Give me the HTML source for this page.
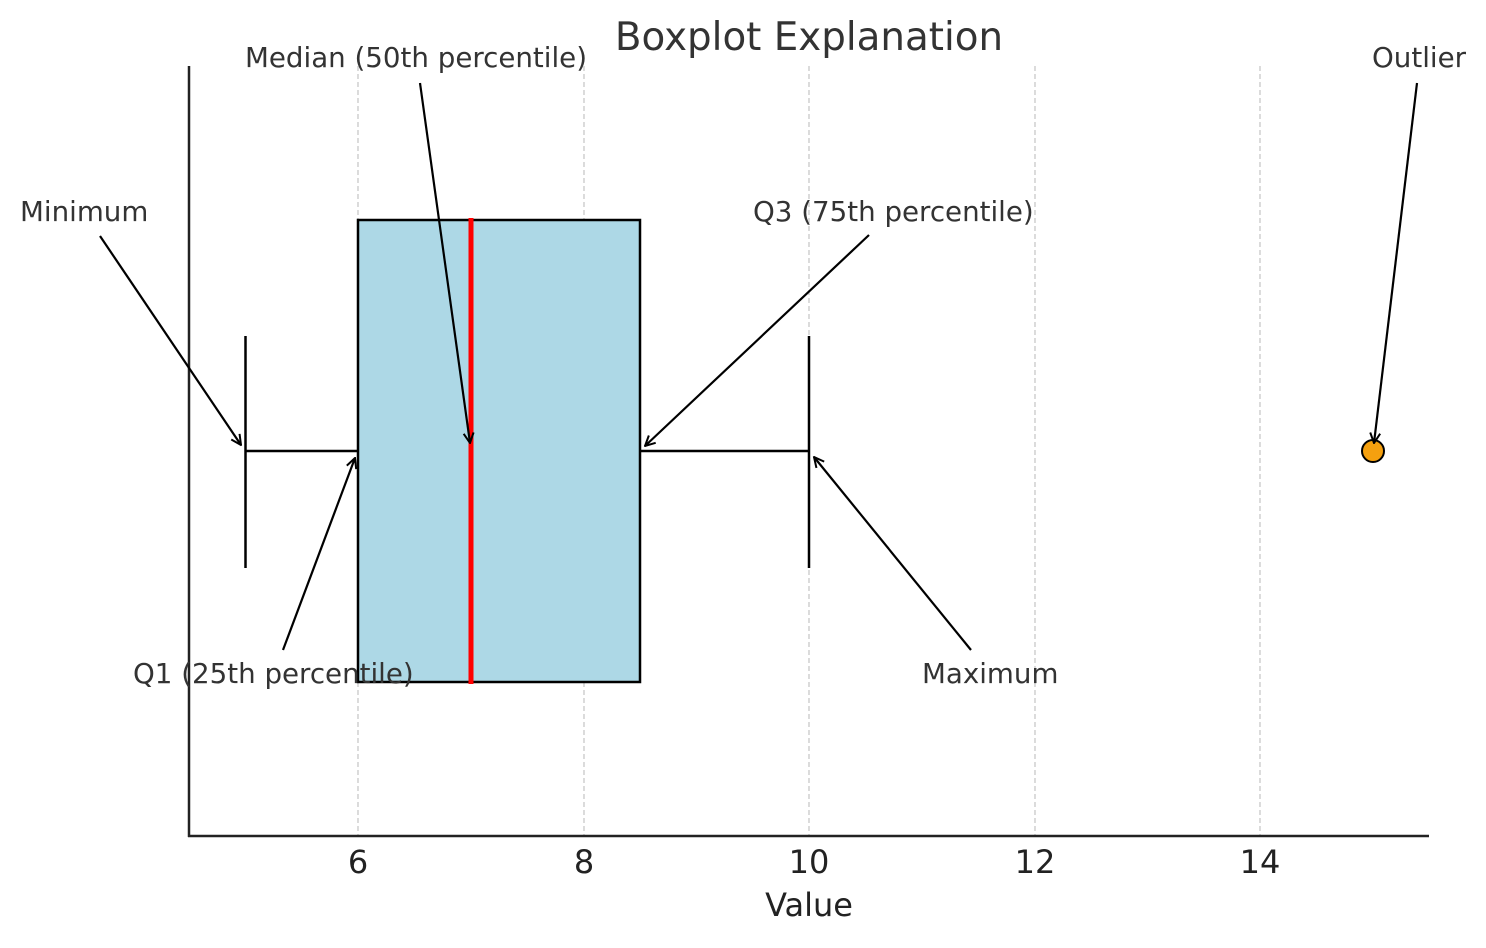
<!DOCTYPE html>
<html><head><meta charset="utf-8"><style>html,body{margin:0;padding:0;background:#fff}</style></head>
<body>
<svg width="1486" height="943" xmlns="http://www.w3.org/2000/svg" font-family="'DejaVu Sans', 'Liberation Sans', sans-serif">
<defs>
<marker id="a" viewBox="0 0 12 12" refX="11" refY="6" markerWidth="12" markerHeight="12" markerUnits="userSpaceOnUse" orient="auto">
<path d="M1,1 L11,6 L1,11" fill="none" stroke="#000" stroke-width="2"/>
</marker>
</defs>
<g stroke="#c8c8c8" stroke-width="1.3" stroke-dasharray="5,3">
<line x1="358" y1="66" x2="358" y2="836"/>
<line x1="584" y1="66" x2="584" y2="836"/>
<line x1="809" y1="66" x2="809" y2="836"/>
<line x1="1035" y1="66" x2="1035" y2="836"/>
<line x1="1260" y1="66" x2="1260" y2="836"/>
</g>
<g stroke="#222" stroke-width="2.5">
<line x1="189" y1="66" x2="189" y2="837"/>
<line x1="188" y1="836" x2="1429" y2="836"/>
</g>
<rect x="358" y="220" width="282" height="462" fill="#add8e6" stroke="#000" stroke-width="2.5"/>
<line x1="471" y1="218" x2="471" y2="684" stroke="#ff0000" stroke-width="5"/>
<g stroke="#000" stroke-width="2.5">
<line x1="245.5" y1="451" x2="358" y2="451"/>
<line x1="640" y1="451" x2="809" y2="451"/>
<line x1="245.5" y1="336" x2="245.5" y2="568"/>
<line x1="809" y1="336" x2="809" y2="568"/>
</g>
<circle cx="1373" cy="451" r="11" fill="#f5a00f" stroke="#000" stroke-width="2"/>
<g stroke="#000" stroke-width="2.2" marker-end="url(#a)">
<line x1="100" y1="236" x2="241" y2="445"/>
<line x1="420" y1="83" x2="470" y2="443"/>
<line x1="869" y1="235" x2="645" y2="446"/>
<line x1="1417" y1="83" x2="1374" y2="443"/>
<line x1="283" y1="650" x2="355" y2="458"/>
<line x1="971" y1="650" x2="814" y2="457"/>
</g>
<g fill="#333" font-size="27.7">
<text x="20" y="221">Minimum</text>
<text x="245" y="67">Median (50th percentile)</text>
<text x="753" y="221">Q3 (75th percentile)</text>
<text x="1372" y="67">Outlier</text>
<text x="133" y="683">Q1 (25th percentile)</text>
<text x="922" y="683">Maximum</text>
</g>
<text x="809" y="50" font-size="38.8" fill="#333" text-anchor="middle">Boxplot Explanation</text>
<g font-size="32" fill="#222" text-anchor="middle">
<text x="358" y="873">6</text>
<text x="584" y="873">8</text>
<text x="809" y="873">10</text>
<text x="1035" y="873">12</text>
<text x="1260" y="873">14</text>
<text x="809" y="916">Value</text>
</g>
</svg>
</body></html>
